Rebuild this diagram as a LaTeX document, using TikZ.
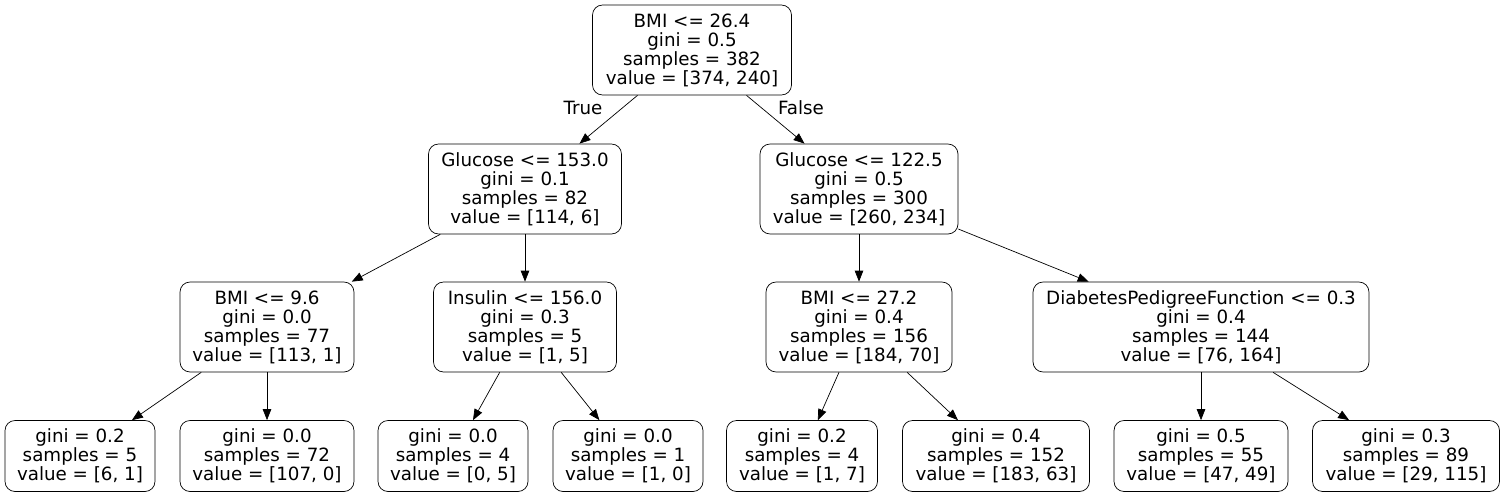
\documentclass[tikz,border=0pt]{standalone}
\usepackage{fontspec}
\setmainfont{DejaVu Sans}
\usetikzlibrary{arrows.meta}
\pgfdeclarelayer{edgelayer}
\pgfdeclarelayer{nodelayer}
\pgfsetlayers{edgelayer,nodelayer,main}
\tikzstyle{split}=[rectangle,rounded corners=0.2cm,draw=black,fill=white,align=center,inner xsep=0pt,inner ysep=0pt,minimum height=1.8cm,font=\fontsize{10.4}{10.8}\selectfont]
\tikzstyle{leaf}=[split,minimum height=1.42cm]
\tikzstyle{branch}=[-{Triangle[length=0.22cm,width=0.17cm]},draw=black]
\tikzstyle{edge_label}=[inner sep=0pt,font=\fontsize{10.4}{10.8}\selectfont]

\begin{document}
\begin{tikzpicture}[x=0.02cm,y=-0.02cm]
	\useasboundingbox (0,0) rectangle (1506,497);
	\begin{pgfonlayer}{nodelayer}
		\node [style=split,minimum width=3.98cm] (0) at (692,50) {BMI <= 26.4\\gini = 0.5\\samples = 382\\value = [374, 240]};
		\node [style=split,minimum width=3.86cm] (1) at (525,189) {Glucose <= 153.0\\gini = 0.1\\samples = 82\\value = [114, 6]};
		\node [style=split,minimum width=3.48cm] (2) at (267,327) {BMI <= 9.6\\gini = 0.0\\samples = 77\\value = [113, 1]};
		\node [style=leaf,minimum width=3.0cm] (3) at (80,456) {gini = 0.2\\samples = 5\\value = [6, 1]};
		\node [style=leaf,minimum width=3.48cm] (4) at (267,456) {gini = 0.0\\samples = 72\\value = [107, 0]};
		\node [style=split,minimum width=3.66cm] (5) at (525,327) {Insulin <= 156.0\\gini = 0.3\\samples = 5\\value = [1, 5]};
		\node [style=leaf,minimum width=3.0cm] (6) at (453,456) {gini = 0.0\\samples = 4\\value = [0, 5]};
		\node [style=leaf,minimum width=3.0cm] (7) at (628,456) {gini = 0.0\\samples = 1\\value = [1, 0]};
		\node [style=split,minimum width=3.96cm] (8) at (859,189) {Glucose <= 122.5\\gini = 0.5\\samples = 300\\value = [260, 234]};
		\node [style=split,minimum width=3.72cm] (9) at (859,327) {BMI <= 27.2\\gini = 0.4\\samples = 156\\value = [184, 70]};
		\node [style=leaf,minimum width=3.02cm] (10) at (802,456) {gini = 0.2\\samples = 4\\value = [1, 7]};
		\node [style=leaf,minimum width=3.74cm] (11) at (996,456) {gini = 0.4\\samples = 152\\value = [183, 63]};
		\node [style=split,minimum width=6.72cm] (12) at (1201,327) {DiabetesPedigreeFunction <= 0.3\\gini = 0.4\\samples = 144\\value = [76, 164]};
		\node [style=leaf,minimum width=3.48cm] (13) at (1201,456) {gini = 0.5\\samples = 55\\value = [47, 49]};
		\node [style=leaf,minimum width=3.74cm] (14) at (1406,456) {gini = 0.3\\samples = 89\\value = [29, 115]};
		\node [style=edge_label] (15) at (583,108) {True};
		\node [style=edge_label] (16) at (801,108) {False};
	\end{pgfonlayer}
	\begin{pgfonlayer}{edgelayer}
		\draw [style=branch] (0) to (1);
		\draw [style=branch] (0) to (8);
		\draw [style=branch] (1) to (2);
		\draw [style=branch] (1) to (5);
		\draw [style=branch] (2) to (3);
		\draw [style=branch] (2) to (4);
		\draw [style=branch] (5) to (6);
		\draw [style=branch] (5) to (7);
		\draw [style=branch] (8) to (9);
		\draw [style=branch] (8) to (12);
		\draw [style=branch] (9) to (10);
		\draw [style=branch] (9) to (11);
		\draw [style=branch] (12) to (13);
		\draw [style=branch] (12) to (14);
	\end{pgfonlayer}
\end{tikzpicture}
\end{document}
